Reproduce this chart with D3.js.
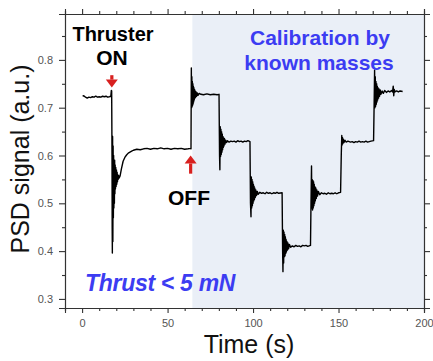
<!DOCTYPE html>
<html>
<head>
<meta charset="utf-8">
<script src="https://cdn.jsdelivr.net/npm/d3@7"></script>
<style>
  body { margin: 0; background: #fff; }
  svg text { font-family: "Liberation Sans", Arial, sans-serif; }
  .axis path, .axis line { stroke: #333; stroke-width: 1.1; }
  .axis text { fill: #555; font-size: 11px; }
</style>
</head>
<body>
<div id="chart"></div>
<script>
// signal, [time (s), PSD signal (a.u.)], one array per stage
var preOn = [[0.3,0.724],[1,0.725],[2,0.722],[3,0.720],[4,0.722],[5,0.721],[6,0.723],[7,0.722],[8,0.724],[9,0.722],[10,0.723],[11,0.722],[12,0.724],[13,0.723],[14,0.724],[15,0.722],[16,0.723],[16.8,0.724],[17.1,0.736]];
var onTransient = [[17.3,0.735],[17.5,0.60],[17.6,0.45],[17.7,0.396],[17.85,0.64],[18.0,0.42],[18.15,0.62],[18.3,0.47],[18.45,0.60],[18.6,0.49],[18.75,0.59],[18.9,0.50],[19.05,0.59],[19.2,0.52],[19.35,0.58],[19.5,0.53],[19.7,0.575],[19.9,0.535],[20.1,0.57],[20.3,0.54],[20.5,0.565],[20.7,0.545],[20.9,0.56],[21.1,0.55],[21.4,0.558],[21.7,0.553]];
var recovery = [[22.2,0.557],[23,0.572],[24,0.588],[25,0.596],[26,0.601],[27,0.605],[28,0.607],[29,0.609],[30,0.611],[32,0.613],[34,0.612],[36,0.614],[38,0.615],[40,0.613],[42,0.615],[44,0.614],[46,0.616],[48,0.614],[50,0.615],[52,0.613],[54,0.615],[56,0.614],[58,0.615],[60,0.613],[62,0.614],[63.5,0.615]];
var offTransient = [[63.7,0.614],[63.8,0.70],[63.9,0.783],[64.05,0.70],[64.2,0.765],[64.35,0.702],[64.5,0.755],[64.65,0.705],[64.8,0.750],[64.95,0.708],[65.1,0.745],[65.25,0.712],[65.4,0.742],[65.6,0.716],[65.8,0.738],[66.0,0.72],[66.2,0.735],[66.4,0.722],[66.7,0.733],[67.0,0.724],[67.4,0.731],[67.8,0.726],[68.5,0.730],[69.5,0.728],[71,0.727],[73,0.729],[75,0.727],[77,0.728],[79,0.727],[80.1,0.728]];
var mass1 = [[80.4,0.60],[80.6,0.57],[80.8,0.66],[81.0,0.598],[81.2,0.655],[81.4,0.602],[81.6,0.65],[81.8,0.607],[82.0,0.645],[82.2,0.612],[82.4,0.64],[82.6,0.617],[82.8,0.637],[83.0,0.62],[83.3,0.635],[83.6,0.624],[84.0,0.632],[84.5,0.627],[85,0.631],[86,0.628],[87,0.630],[88,0.629],[89,0.630],[90,0.628],[91,0.631],[92,0.629],[93,0.630],[94,0.628],[95,0.630],[96,0.629],[97,0.631],[98.2,0.629]];
var mass2 = [[98.5,0.50],[98.8,0.472],[99.0,0.555],[99.2,0.49],[99.4,0.55],[99.6,0.495],[99.8,0.545],[100.0,0.50],[100.2,0.54],[100.4,0.505],[100.6,0.536],[100.8,0.508],[101.0,0.532],[101.3,0.512],[101.6,0.528],[102.0,0.516],[102.5,0.525],[103,0.519],[104,0.523],[105,0.521],[106,0.522],[107,0.520],[108,0.523],[109,0.521],[110,0.522],[111,0.520],[112,0.522],[113,0.521],[114,0.523],[115,0.521],[117.0,0.522]];
var mass3 = [[117.3,0.40],[117.5,0.357],[117.7,0.444],[117.9,0.375],[118.1,0.44],[118.3,0.388],[118.5,0.435],[118.7,0.39],[118.9,0.43],[119.1,0.395],[119.3,0.425],[119.5,0.398],[119.8,0.42],[120.1,0.402],[120.4,0.417],[120.8,0.405],[121.3,0.414],[122,0.408],[123,0.411],[124,0.409],[125,0.412],[126,0.410],[127,0.411],[128,0.409],[129,0.412],[130,0.411],[131,0.412],[132,0.410],[133.6,0.412]];
var mass4 = [[133.9,0.50],[134.2,0.578],[134.4,0.49],[134.6,0.55],[134.8,0.486],[135.0,0.548],[135.2,0.49],[135.4,0.545],[135.6,0.495],[135.8,0.54],[136.0,0.50],[136.2,0.535],[136.4,0.505],[136.7,0.532],[137.0,0.51],[137.3,0.528],[137.7,0.515],[138.2,0.525],[139,0.518],[140,0.522],[141,0.520],[142,0.521],[143,0.519],[144,0.522],[145,0.520],[146,0.521],[147,0.520],[148,0.522],[149,0.520],[150,0.522],[151.2,0.523]];
var mass5 = [[151.6,0.60],[151.9,0.642],[152.1,0.622],[152.3,0.638],[152.5,0.625],[152.8,0.634],[153.2,0.627],[153.7,0.632],[154.5,0.628],[155.5,0.630],[157,0.628],[158,0.629],[159,0.627],[160,0.629],[161,0.628],[162,0.630],[163,0.628],[164,0.629],[165,0.628],[166,0.630],[167,0.628],[168,0.629],[169,0.630],[170.5,0.631]];
var mass6 = [[170.8,0.70],[171.1,0.779],[171.3,0.70],[171.5,0.765],[171.7,0.703],[171.9,0.755],[172.1,0.707],[172.3,0.75],[172.5,0.712],[172.7,0.745],[172.9,0.716],[173.1,0.742],[173.4,0.72],[173.7,0.739],[174.0,0.724],[174.4,0.737],[174.8,0.728],[175.5,0.735],[176.2,0.730],[177,0.736],[178,0.732],[179,0.735],[180,0.733],[181,0.736],[181.6,0.733],[182,0.745],[182.3,0.725],[182.6,0.738],[183,0.733],[184,0.735],[185,0.733],[186,0.735],[187.5,0.734]];

var xMajor = [0, 50, 100, 150, 200];
var xMinor = [-10, 10, 20, 30, 40, 60, 70, 80, 90, 110, 120, 130, 140, 160, 170, 180, 190];
var yMajor = [0.3, 0.4, 0.5, 0.6, 0.7, 0.8];
var yMinor = [0.35, 0.45, 0.55, 0.65, 0.75, 0.85];
var calibStart = 64.5;   // start of the shaded calibration part
var onTime = 17.4, offTime = 63.5;

var svgWidth = 433, svgHeight = 361;
var margin = {top: 14, right: 9, bottom: 53, left: 65};
var width = svgWidth - margin.left - margin.right;
var height = svgHeight - margin.top - margin.bottom;

var svg = d3.select("#chart").append("svg")
    .attr("width", svgWidth)
    .attr("height", svgHeight);

var g = svg.append("g")
    .attr("transform", `translate(${margin.left}, ${margin.top})`);

var x = d3.scaleLinear().domain([-10, 200]).range([0, width]);
var y = d3.scaleLinear().domain([0.281, 0.896]).range([height, 0]);

// shaded calibration region
g.append("rect")
    .attr("x", x(calibStart))
    .attr("y", 0)
    .attr("width", x(200) - x(calibStart))
    .attr("height", height)
    .attr("fill", "#eaeff7");

// signal
var signal = [].concat(preOn, onTransient, recovery, offTransient, mass1, mass2, mass3, mass4, mass5, mass6);
var line = d3.line().x(d => x(d[0])).y(d => y(d[1]));
g.append("path")
    .datum(signal)
    .attr("d", line)
    .attr("fill", "none")
    .attr("stroke", "#000")
    .attr("stroke-width", 1.4)
    .attr("stroke-linejoin", "round");

// axes: major + minor, mirrored on top and right
function addAxis(axisFn, scale, ticks, size, transform, labels) {
    var a = axisFn(scale).tickValues(ticks).tickSize(size).tickPadding(6);
    if (!labels) a.tickFormat("");
    else a.tickFormat(d3.format(".1~f"));
    return g.append("g").attr("class", "axis").attr("transform", transform).call(a);
}
addAxis(d3.axisBottom, x, xMajor, 5, `translate(0, ${height})`, true);
addAxis(d3.axisBottom, x, xMinor, 3, `translate(0, ${height})`, false);
addAxis(d3.axisTop, x, xMajor, 5, "translate(0, 0)", false);
addAxis(d3.axisTop, x, xMinor, 3, "translate(0, 0)", false);
addAxis(d3.axisLeft, y, yMajor, 6, "translate(0, 0)", true);
addAxis(d3.axisLeft, y, yMinor, 3, "translate(0, 0)", false);
addAxis(d3.axisRight, y, yMajor, 6, `translate(${width}, 0)`, false);
addAxis(d3.axisRight, y, yMinor, 3, `translate(${width}, 0)`, false);

// axis titles
svg.append("text")
    .attr("x", 249)
    .attr("y", 353)
    .attr("text-anchor", "middle")
    .attr("font-size", "25px")
    .attr("fill", "#111")
    .text("Time (s)");

svg.append("text")
    .attr("transform", "rotate(-90)")
    .attr("x", -159)
    .attr("y", 29)
    .attr("text-anchor", "middle")
    .attr("font-size", "25px")
    .attr("fill", "#111")
    .text("PSD signal (a.u.)");

// annotations
function arrow(t, vTail, vTip, color) {
    var xp = x(t), y0 = y(vTail), y1 = y(vTip);
    var dir = y1 > y0 ? 1 : -1;
    var head = 8;
    g.append("line")
        .attr("x1", xp).attr("x2", xp)
        .attr("y1", y0).attr("y2", y1 - dir * head)
        .attr("stroke", color).attr("stroke-width", 3.2);
    g.append("path")
        .attr("d", `M${xp - 6},${y1 - dir * head} L${xp + 6},${y1 - dir * head} L${xp},${y1} Z`)
        .attr("fill", color);
}
arrow(onTime, 0.768, 0.742, "#d8201f");
arrow(offTime, 0.562, 0.600, "#d8201f");

svg.append("text").attr("x", 113).attr("y", 41).attr("text-anchor", "middle")
    .attr("font-size", "20px").attr("font-weight", "bold").attr("fill", "#000")
    .text("Thruster");
svg.append("text").attr("x", 112).attr("y", 65).attr("text-anchor", "middle")
    .attr("font-size", "21px").attr("font-weight", "bold").attr("fill", "#000")
    .text("ON");
svg.append("text").attr("x", 189).attr("y", 205).attr("text-anchor", "middle")
    .attr("font-size", "21px").attr("font-weight", "bold").attr("fill", "#000")
    .text("OFF");

svg.append("text").attr("x", 320).attr("y", 45).attr("text-anchor", "middle")
    .attr("font-size", "21px").attr("font-weight", "bold").attr("fill", "#3c3cf2")
    .text("Calibration by");
svg.append("text").attr("x", 319).attr("y", 70).attr("text-anchor", "middle")
    .attr("font-size", "21px").attr("font-weight", "bold").attr("fill", "#3c3cf2")
    .text("known masses");

svg.append("text").attr("x", 85).attr("y", 291)
    .attr("font-size", "23px").attr("font-weight", "bold").attr("font-style", "italic")
    .attr("letter-spacing", "-0.3px").attr("fill", "#3c3cf2")
    .text("Thrust < 5 mN");
</script>
</body>
</html>
